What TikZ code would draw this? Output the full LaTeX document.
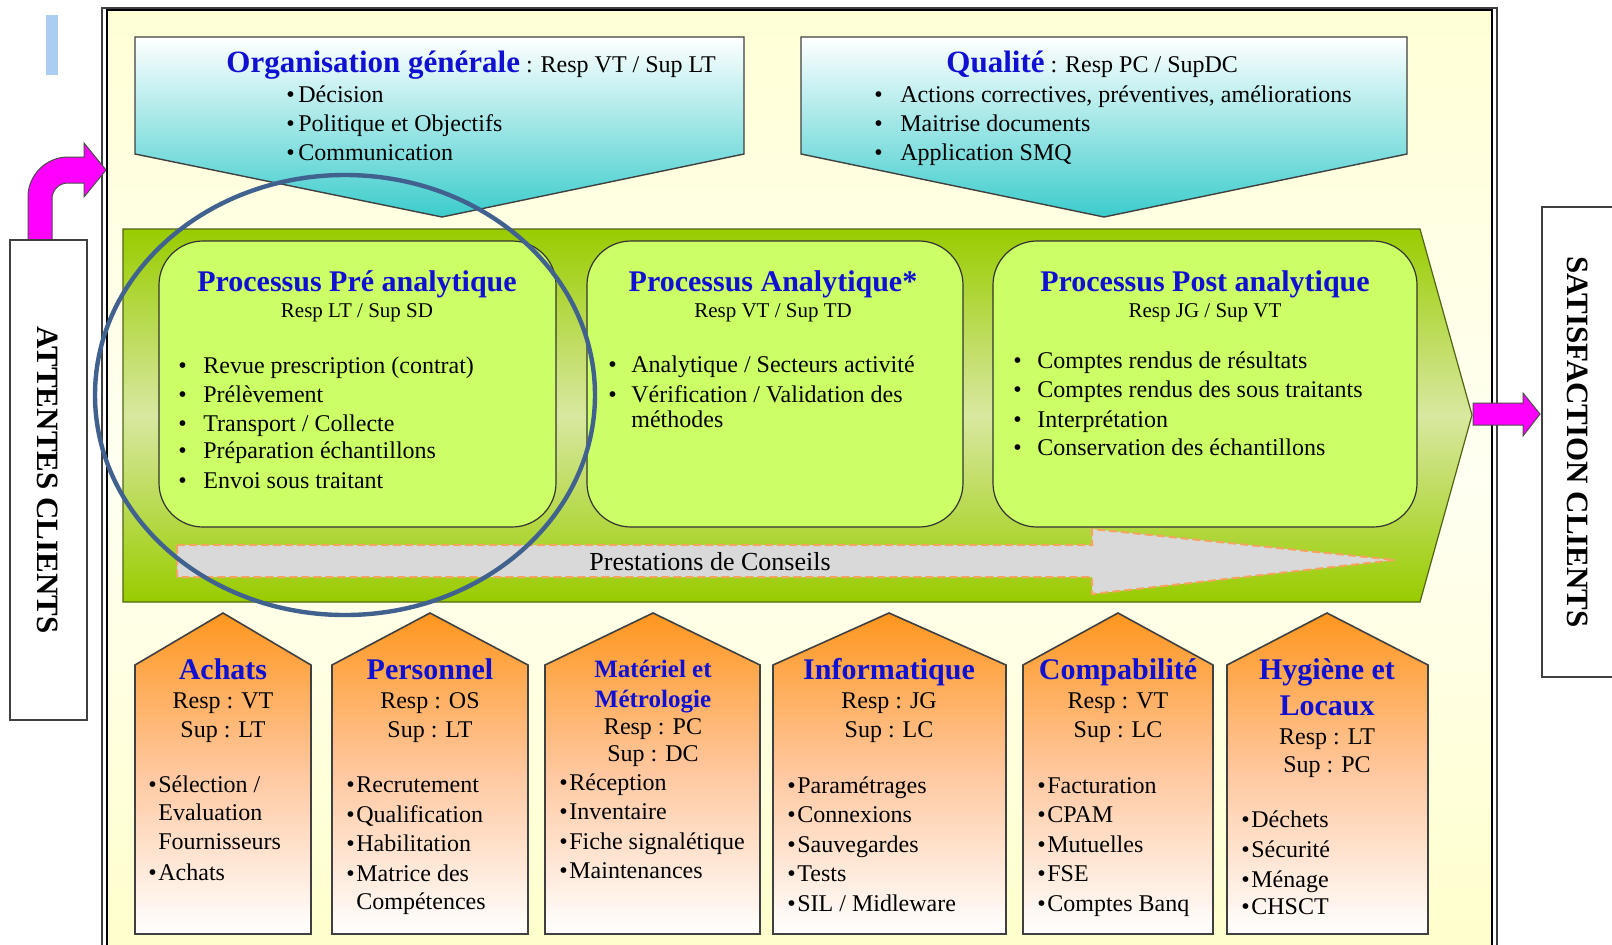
\documentclass[tikz,border=0pt]{standalone}
\usepackage{fontspec}
\setmainfont{Liberation Serif}
\definecolor{titleblue}{RGB}{16,16,210}
\definecolor{frametop}{RGB}{255,255,214}
\definecolor{framemid}{RGB}{255,255,242}
\definecolor{framebot}{RGB}{255,255,204}
\definecolor{procfill}{RGB}{204,255,102}
\definecolor{bandgreen}{RGB}{153,204,0}
\definecolor{bandlight}{RGB}{216,232,160}
\definecolor{bandedge}{RGB}{80,100,20}
\definecolor{cyanb}{RGB}{60,204,204}
\definecolor{orangeb}{RGB}{255,150,30}
\definecolor{orangem}{RGB}{255,200,160}
\definecolor{ringblue}{RGB}{65,97,143}
\definecolor{sandy}{RGB}{244,164,96}
\definecolor{grayarrow}{RGB}{217,217,217}
\definecolor{edgegray}{RGB}{64,64,64}
\definecolor{barblue}{RGB}{170,205,240}
\definecolor{magpink}{RGB}{255,0,255}
\newcommand{\bul}[1]{\makebox[#1][l]{\textbullet}}
\newcommand{\tb}{\bfseries\fontsize{15.5}{18}\selectfont\color{titleblue}}
\tikzset{
  txt/.style={inner sep=0pt, anchor=base west, font=\fontsize{12}{14}\selectfont},
  ctxt/.style={inner sep=0pt, anchor=base, font=\fontsize{12}{14}\selectfont},
  rtxt/.style={inner sep=0pt, anchor=base, font=\fontsize{10.5}{12}\selectfont},
  ptitle/.style={inner sep=0pt, anchor=base, text=titleblue, font=\fontsize{15}{18}\selectfont\bfseries},
  mtitle/.style={inner sep=0pt, anchor=base, text=titleblue, font=\fontsize{12.5}{15}\selectfont\bfseries},
  pentbox/.style={draw=edgegray, line width=0.7pt, top color=white, bottom color=cyanb},
  procbox/.style={draw=black!80, line width=0.6pt, fill=procfill, rounded corners=22pt},
  housebox/.style={draw=edgegray, line width=0.8pt, top color=orangeb, bottom color=white, middle color=orangem},
  sidebox/.style={draw=edgegray, line width=0.7pt, fill=white},
  magarrow/.style={draw=black!70, line width=0.5pt, fill=magpink},
  vlabel/.style={inner sep=0pt, rotate=-90, font=\fontsize{15.5}{18}\selectfont\bfseries}
}
\begin{document}
\begin{tikzpicture}[x=0.5pt,y=-0.5pt]
\useasboundingbox (0,0) rectangle (1612,944);
\clip (0,0) rectangle (1612,944);
\fill[white] (0,0) rectangle (1612,944);
% light blue bar
\fill[barblue] (46,15) rectangle (58,75);
% main frame
\shade[top color=frametop, bottom color=framebot, middle color=framemid] (107,11) rectangle (1492,950);
\draw[edgegray, line width=0.6pt] (102,8) rectangle (1497,960);
\draw[black, line width=1pt] (107,10) rectangle (1492,960);
% top pentagons
\path[pentbox] (135,37) -- (744,37) -- (744,154) -- (442,217) -- (135,154) -- cycle;
\path[pentbox] (801,37) -- (1407,37) -- (1407,154) -- (1104,217) -- (801,154) -- cycle;
% green band
\path[draw=bandedge, line width=0.6pt, top color=bandgreen, bottom color=bandgreen, middle color=bandlight]
  (123,229) -- (1420,229) -- (1472,415) -- (1420,602) -- (123,602) -- cycle;
% process boxes
\path[procbox] (159,241) rectangle (556,527);
\path[procbox] (587,241) rectangle (963,527);
\path[procbox] (993,241) rectangle (1417,527);
% gray arrow
\path[fill=grayarrow, draw=sandy, line width=1pt, dash pattern=on 4pt off 2pt]
  (177,545) -- (1092,545) -- (1092,529) -- (1395,560) -- (1092,594) -- (1092,577) -- (177,577) -- cycle;
\node[txt, font=\fontsize{13}{15}\selectfont] (presta) at (589,570) {Prestations de Conseils};
% houses
\path[housebox] (135,934) -- (135,665) -- (223,613) -- (311,665) -- (311,934) -- cycle;
\path[housebox] (332,934) -- (332,665) -- (430,613) -- (528,665) -- (528,934) -- cycle;
\path[housebox] (545,934) -- (545,665) -- (653,613) -- (760,665) -- (760,934) -- cycle;
\path[housebox] (773,934) -- (773,665) -- (889,613) -- (1006,665) -- (1006,934) -- cycle;
\path[housebox] (1023,934) -- (1023,665) -- (1118,613) -- (1213,665) -- (1213,934) -- cycle;
\path[housebox] (1227,934) -- (1227,665) -- (1327,613) -- (1428,665) -- (1428,934) -- cycle;

% top texts
\node[txt] (orgT) at (226,72) {{\tb Organisation générale} : Resp VT / Sup LT};
\node[txt] (org1) at (286,102) {\bul{6pt}Décision};
\node[txt] (org2) at (286,131) {\bul{6pt}Politique et Objectifs};
\node[txt] (org3) at (286,160) {\bul{6pt}Communication};
\node[txt] (qT) at (946,72) {{\tb Qualité} : Resp PC / SupDC};
\node[txt] (q1) at (874,102) {\bul{13pt}Actions correctives, préventives, améliorations};
\node[txt] (q2) at (874,131) {\bul{13pt}Maitrise documents};
\node[txt] (q3) at (874,160) {\bul{13pt}Application SMQ};

% process texts
\node[ptitle] (p1T) at (357,291) {Processus Pré analytique};
\node[rtxt] (p1R) at (357,317) {Resp LT / Sup SD};
\node[txt] (p1a) at (178,373) {\bul{12.5pt}Revue prescription (contrat)};
\node[txt] (p1b) at (178,402) {\bul{12.5pt}Prélèvement};
\node[txt] (p1c) at (178,431) {\bul{12.5pt}Transport / Collecte};
\node[txt] (p1d) at (178,458) {\bul{12.5pt}Préparation échantillons};
\node[txt] (p1e) at (178,488) {\bul{12.5pt}Envoi sous traitant};

\node[ptitle] (p2T) at (773,291) {Processus Analytique*};
\node[rtxt] (p2R) at (773,317) {Resp VT / Sup TD};
\node[txt] (p2a) at (608,372) {\bul{11.5pt}Analytique / Secteurs activité};
\node[txt] (p2b) at (608,402) {\bul{11.5pt}Vérification / Validation des};
\node[txt] (p2c) at (631,427) {méthodes};

\node[ptitle] (p3T) at (1205,291) {Processus Post analytique};
\node[rtxt] (p3R) at (1205,317) {Resp JG / Sup VT};
\node[txt] (p3a) at (1013,368) {\bul{12pt}Comptes rendus de résultats};
\node[txt] (p3b) at (1013,397) {\bul{12pt}Comptes rendus des sous traitants};
\node[txt] (p3c) at (1013,427) {\bul{12pt}Interprétation};
\node[txt] (p3d) at (1013,455) {\bul{12pt}Conservation des échantillons};

% house texts
\node[ptitle] (h1T) at (223,679) {Achats};
\node[ctxt] (h1R) at (223,708) {Resp : VT};
\node[ctxt] (h1S) at (223,737) {Sup : LT};
\node[txt] (h1a) at (148,792) {\bul{5pt}Sélection /};
\node[txt] (h1b) at (158,820) {Evaluation};
\node[txt] (h1c) at (158,849) {Fournisseurs};
\node[txt] (h1d) at (148,880) {\bul{5pt}Achats};

\node[ptitle] (h2T) at (430,679) {Personnel};
\node[ctxt] (h2R) at (430,708) {Resp : OS};
\node[ctxt] (h2S) at (430,737) {Sup : LT};
\node[txt] (h2a) at (346,792) {\bul{5pt}Recrutement};
\node[txt] (h2b) at (346,822) {\bul{5pt}Qualification};
\node[txt] (h2c) at (346,851) {\bul{5pt}Habilitation};
\node[txt] (h2d) at (346,881) {\bul{5pt}Matrice des};
\node[txt] (h2e) at (356,909) {Compétences};

\node[mtitle] (h3T) at (653,677) {Matériel et};
\node[mtitle] (h3U) at (653,707) {Métrologie};
\node[ctxt] (h3R) at (653,734) {Resp : PC};
\node[ctxt] (h3S) at (653,761) {Sup : DC};
\node[txt] (h3a) at (559,790) {\bul{5pt}Réception};
\node[txt] (h3b) at (559,819) {\bul{5pt}Inventaire};
\node[txt] (h3c) at (559,849) {\bul{5pt}Fiche signalétique};
\node[txt] (h3d) at (559,878) {\bul{5pt}Maintenances};

\node[ptitle] (h4T) at (889,679) {Informatique};
\node[ctxt] (h4R) at (889,708) {Resp : JG};
\node[ctxt] (h4S) at (889,737) {Sup : LC};
\node[txt] (h4a) at (787,793) {\bul{5pt}Paramétrages};
\node[txt] (h4b) at (787,822) {\bul{5pt}Connexions};
\node[txt] (h4c) at (787,852) {\bul{5pt}Sauvegardes};
\node[txt] (h4d) at (787,881) {\bul{5pt}Tests};
\node[txt] (h4e) at (787,911) {\bul{5pt}SIL / Midleware};

\node[ptitle] (h5T) at (1118,679) {Compabilité};
\node[ctxt] (h5R) at (1118,708) {Resp : VT};
\node[ctxt] (h5S) at (1118,737) {Sup : LC};
\node[txt] (h5a) at (1037,793) {\bul{5pt}Facturation};
\node[txt] (h5b) at (1037,822) {\bul{5pt}CPAM};
\node[txt] (h5c) at (1037,852) {\bul{5pt}Mutuelles};
\node[txt] (h5d) at (1037,881) {\bul{5pt}FSE};
\node[txt] (h5e) at (1037,911) {\bul{5pt}Comptes Banq};

\node[ptitle] (h6T) at (1327,679) {Hygiène et};
\node[ptitle] (h6U) at (1327,715) {Locaux};
\node[ctxt] (h6R) at (1327,744) {Resp : LT};
\node[ctxt] (h6S) at (1327,772) {Sup : PC};
\node[txt] (h6a) at (1241,827) {\bul{5pt}Déchets};
\node[txt] (h6b) at (1241,857) {\bul{5pt}Sécurité};
\node[txt] (h6c) at (1241,887) {\bul{5pt}Ménage};
\node[txt] (h6d) at (1241,914) {\bul{5pt}CHSCT};

% ring
\draw[ringblue, line width=2.2pt] (345,395) ellipse [x radius=125pt, y radius=110pt];

% magenta arrows
\path[magarrow] (28,240) -- (28,197) .. controls (28,175) and (46,157) .. (68,157) -- (84,157) -- (84,143)
  -- (106,170) -- (84,197) -- (84,183) -- (68,183) .. controls (59,183) and (52,190) .. (52,199) -- (52,240) -- cycle;
\path[magarrow] (1473,403) -- (1523,403) -- (1523,393) -- (1540,414) -- (1523,436) -- (1523,425) -- (1473,425) -- cycle;

% side boxes
\path[sidebox] (10,240) rectangle (87,720);
\node[vlabel] (att) at (48,480) {ATTENTES CLIENTS};
\path[sidebox] (1542,207) rectangle (1630,677);
\node[vlabel] (sat) at (1578,442) {SATISFACTION CLIENTS};
\end{tikzpicture}
\end{document}
